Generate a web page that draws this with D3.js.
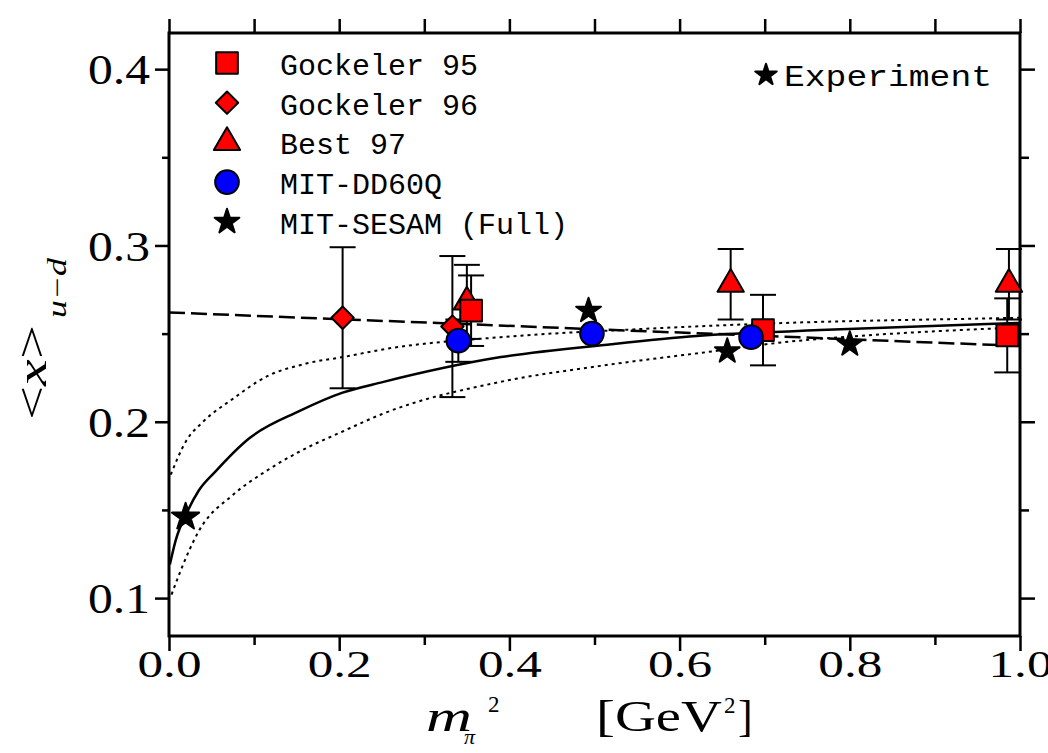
<!DOCTYPE html>
<html>
<head>
<meta charset="utf-8">
<script src="https://cdn.jsdelivr.net/npm/d3@7"></script>
<style>
  body { margin: 0; background: #fff; }
  svg { display: block; }
</style>
</head>
<body>
<svg id="chart" width="1048" height="753"></svg>
<script>
// Lattice moments <x>_{u-d} versus m_pi^2 : [m_pi^2, value, error]
const gockeler95 = [[0.355, 0.263, 0.020], [0.698, 0.252, 0.020], [0.985, 0.249, 0.021]];
const gockeler96 = [[0.204, 0.259, 0.040], [0.333, 0.254, 0.040]];
const best97     = [[0.350, 0.268, 0.021], [0.660, 0.278, 0.020], [0.987, 0.278, 0.020]];
const mitDD60Q   = [[0.340, 0.246, 0.012], [0.497, 0.250, 0], [0.684, 0.248, 0]];
const mitSESAM   = [[0.493, 0.263, 0], [0.656, 0.240, 0], [0.800, 0.244, 0]];
const experiment = [[0.0195, 0.146, 0]];

// Fit curves: [m_pi^2, <x>_{u-d}]
const fitSolid = [[0.001, 0.119], [0.008, 0.133], [0.022, 0.1495], [0.035, 0.161], [0.055, 0.172],
  [0.094, 0.1905], [0.153, 0.206], [0.204, 0.2165], [0.251, 0.2225], [0.39, 0.2367], [0.52, 0.244],
  [0.62, 0.2486], [0.765, 0.252], [0.97, 0.2556], [1.0, 0.256]];
const fitUpper = [[0.002, 0.170], [0.02, 0.189], [0.04, 0.200], [0.075, 0.213], [0.114, 0.2255],
  [0.161, 0.233], [0.208, 0.237], [0.251, 0.241], [0.39, 0.248], [0.55, 0.2525], [0.72, 0.256],
  [0.97, 0.2587], [1.0, 0.259]];
const fitLower = [[0.003, 0.102], [0.012, 0.1135], [0.035, 0.138], [0.075, 0.1585], [0.114, 0.172],
  [0.153, 0.183], [0.204, 0.1945], [0.251, 0.2045], [0.39, 0.2227], [0.507, 0.2317], [0.64, 0.240],
  [0.72, 0.245], [0.82, 0.249], [1.0, 0.2535]];
const fitLinear = [[0.0, 0.262], [1.0, 0.243]];

// Axis ticks
const xMajorTicks = [0.0, 0.2, 0.4, 0.6, 0.8, 1.0];
const xMinorTicks = [0.1, 0.3, 0.5, 0.7, 0.9];
const yMajorTicks = [0.1, 0.2, 0.3, 0.4];
const yMinorTicks = [0.15, 0.25, 0.35];

const legendLabels = ["Gockeler 95", "Gockeler 96", "Best 97", "MIT-DD60Q", "MIT-SESAM (Full)"];
const experimentLabel = "Experiment";

const svg = d3.select("#chart");
svg.append("rect").attr("width", 1048).attr("height", 753).attr("fill", "#fff");

const plotLeft = 169, plotRight = 1020, plotTop = 33, plotBottom = 636;
const x = d3.scaleLinear().domain([0, 1]).range([plotLeft, plotRight]);
const y = d3.scaleLinear().domain([0.0785, 0.4205]).range([plotBottom, plotTop]);

const serif = "'Liberation Serif', 'Times New Roman', serif";
const mono = "'Liberation Mono', 'Courier New', monospace";

// Fit curves
const line = d3.line().x(d => x(d[0])).y(d => y(d[1])).curve(d3.curveMonotoneX);
const curves = svg.append("g").attr("fill", "none").attr("stroke", "#000");
curves.append("path").attr("d", line(fitUpper)).attr("stroke-width", 2).attr("stroke-dasharray", "3,4");
curves.append("path").attr("d", line(fitLower)).attr("stroke-width", 2).attr("stroke-dasharray", "3,4");
curves.append("path").attr("d", line(fitLinear)).attr("stroke-width", 2.5).attr("stroke-dasharray", "16,6");
curves.append("path").attr("d", line(fitSolid)).attr("stroke-width", 2.5);

// Frame and axes
svg.append("rect").attr("x", plotLeft).attr("y", plotTop)
  .attr("width", plotRight - plotLeft).attr("height", plotBottom - plotTop)
  .attr("fill", "none").attr("stroke", "#000").attr("stroke-width", 3);

const bottomAxis = svg.append("g").attr("transform", `translate(0,${plotBottom})`)
  .call(d3.axisBottom(x).tickValues(xMajorTicks).tickSize(15).tickSizeOuter(0).tickFormat(d3.format(".1f")));
svg.append("g").attr("transform", `translate(0,${plotBottom})`)
  .call(d3.axisBottom(x).tickValues(xMinorTicks).tickSize(9).tickSizeOuter(0).tickFormat(""));
svg.append("g").attr("transform", `translate(0,${plotTop})`)
  .call(d3.axisTop(x).tickValues(xMajorTicks.concat(xMinorTicks)).tickSize(14).tickSizeOuter(0).tickFormat(""));
const leftAxis = svg.append("g").attr("transform", `translate(${plotLeft},0)`)
  .call(d3.axisLeft(y).tickValues(yMajorTicks).tickSize(14).tickSizeOuter(0).tickFormat(d3.format(".1f")));
svg.append("g").attr("transform", `translate(${plotLeft},0)`)
  .call(d3.axisLeft(y).tickValues(yMinorTicks).tickSize(7).tickSizeOuter(0).tickFormat(""));
svg.append("g").attr("transform", `translate(${plotRight},0)`)
  .call(d3.axisRight(y).tickValues(yMajorTicks).tickSize(15).tickSizeOuter(0).tickFormat(""));
svg.append("g").attr("transform", `translate(${plotRight},0)`)
  .call(d3.axisRight(y).tickValues(yMinorTicks).tickSize(9).tickSizeOuter(0).tickFormat(""));

svg.selectAll(".domain").remove();
svg.selectAll(".tick line").attr("stroke", "#000").attr("stroke-width", 2.5);

bottomAxis.selectAll(".tick text")
  .attr("font-family", serif).attr("font-size", 38).attr("fill", "#000")
  .attr("y", 41).attr("dy", 0)
  .attr("textLength", 64).attr("lengthAdjust", "spacingAndGlyphs");
leftAxis.selectAll(".tick text")
  .attr("font-family", serif).attr("font-size", 42).attr("fill", "#000")
  .attr("x", -19).attr("dy", "0.35em")
  .attr("textLength", 62).attr("lengthAdjust", "spacingAndGlyphs");

// Error bars
const allSeries = [gockeler96, best97, gockeler95, mitDD60Q, mitSESAM, experiment];
const bars = svg.append("g").attr("stroke", "#000").attr("stroke-width", 2);
allSeries.forEach(series => {
  series.filter(d => d[2] > 0).forEach(d => {
    const cx = x(d[0]);
    bars.append("line").attr("x1", cx).attr("x2", cx).attr("y1", y(d[1] - d[2])).attr("y2", y(d[1] + d[2]));
    [d[1] - d[2], d[1] + d[2]].forEach(v => {
      bars.append("line").attr("x1", cx - 13).attr("x2", cx + 13).attr("y1", y(v)).attr("y2", y(v));
    });
  });
});

// Marker styles
const styles = {
  square:   { type: d3.symbolSquare, size: 470, fill: "#ff0000", rotate: 0 },
  diamond:  { type: d3.symbolSquare, size: 250, fill: "#ff0000", rotate: 45 },
  triangle: { type: d3.symbolTriangle, size: 300, fill: "#ff0000", rotate: 0 },
  circle:   { type: d3.symbolCircle, size: 440, fill: "#0000ff", rotate: 0 },
  star:     { type: d3.symbolStar, size: 190, fill: "#000", rotate: 0 }
};

function drawMarker(g, st, px, py, scale = 1) {
  g.append("path")
    .attr("d", d3.symbol().type(st.type).size(st.size * scale)())
    .attr("transform", `translate(${px},${py}) rotate(${st.rotate})`)
    .attr("fill", st.fill).attr("stroke", "#000").attr("stroke-width", 2)
    .attr("stroke-linejoin", "round");
}

const marks = svg.append("g");
gockeler96.forEach(d => drawMarker(marks, styles.diamond, x(d[0]), y(d[1])));
best97.forEach(d => drawMarker(marks, styles.triangle, x(d[0]), y(d[1])));
gockeler95.forEach(d => drawMarker(marks, styles.square, x(d[0]), y(d[1])));
mitDD60Q.forEach(d => drawMarker(marks, styles.circle, x(d[0]), y(d[1])));
mitSESAM.forEach(d => drawMarker(marks, styles.star, x(d[0]), y(d[1])));
experiment.forEach(d => drawMarker(marks, styles.star, x(d[0]), y(d[1]), 1.2));

// Legend
const legendStyles = [styles.square, styles.diamond, styles.triangle, styles.circle, styles.star];
const legend = svg.append("g");
legendLabels.forEach((label, i) => {
  const cy = 63 + i * 39.7;
  drawMarker(legend, legendStyles[i], 227, cy);
  legend.append("text").attr("x", 280).attr("y", cy + 12)
    .attr("font-family", mono).attr("font-size", 30).attr("fill", "#000")
    .text(label);
});

// Experiment key
drawMarker(legend, styles.star, 766, 75, 0.75);
legend.append("text").attr("x", 784).attr("y", 86)
  .attr("font-family", mono).attr("font-size", 30).attr("fill", "#000")
  .attr("textLength", 208).attr("lengthAdjust", "spacingAndGlyphs")
  .text(experimentLabel);

// Axis titles
const xt = svg.append("g").attr("font-family", serif).attr("fill", "#000");
xt.append("text").attr("x", 426).attr("y", 731).attr("font-size", 44).attr("font-style", "italic")
  .attr("textLength", 46).attr("lengthAdjust", "spacingAndGlyphs").text("m");
xt.append("text").attr("x", 464).attr("y", 744).attr("font-size", 22).attr("font-style", "italic").text("π");
xt.append("text").attr("x", 488).attr("y", 712).attr("font-size", 23).text("2");
xt.append("text").attr("x", 596).attr("y", 731).attr("font-size", 44)
  .attr("textLength", 126).attr("lengthAdjust", "spacingAndGlyphs").text("[GeV");
xt.append("text").attr("x", 724).attr("y", 713).attr("font-size", 23).text("2");
xt.append("text").attr("x", 738).attr("y", 731).attr("font-size", 44).text("]");

const yt = svg.append("g").attr("font-family", serif).attr("fill", "#000")
  .attr("transform", "translate(46,420) rotate(-90)");
const ytMain = yt.append("text").attr("x", 0).attr("y", 0).attr("font-size", 42)
  .attr("textLength", 95).attr("lengthAdjust", "spacingAndGlyphs");
ytMain.append("tspan").text("<");
ytMain.append("tspan").attr("font-style", "italic").text("x");
ytMain.append("tspan").text(">");
yt.append("text").attr("x", 102).attr("y", 20).attr("font-size", 27).attr("font-style", "italic")
  .attr("textLength", 60).attr("lengthAdjust", "spacingAndGlyphs").text("u−d");
</script>
</body>
</html>
